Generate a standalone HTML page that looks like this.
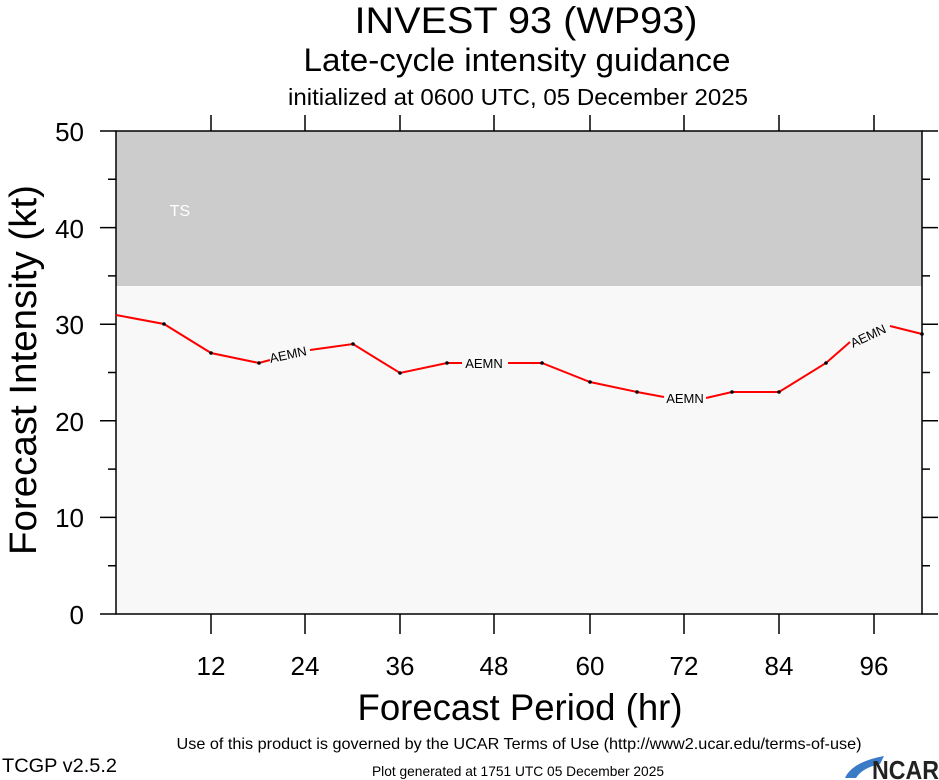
<!DOCTYPE html>
<html><head><style>body{margin:0;background:#fff}svg{display:block;font-family:"Liberation Sans",Arial,sans-serif}</style></head><body>
<svg width="939" height="780" viewBox="0 0 939 780">
<text x="526" y="33" font-size="37" text-anchor="middle" textLength="343" lengthAdjust="spacingAndGlyphs">INVEST 93 (WP93)</text>
<text x="517" y="71" font-size="32" text-anchor="middle" textLength="427" lengthAdjust="spacingAndGlyphs">Late-cycle intensity guidance</text>
<text x="518" y="105" font-size="23" text-anchor="middle" textLength="460" lengthAdjust="spacingAndGlyphs">initialized at 0600 UTC, 05 December 2025</text>
<rect x="116" y="131" width="806" height="483" fill="#f8f8f8"/>
<rect x="116" y="131" width="806" height="155" fill="#cccccc"/>
<text x="180" y="216" font-size="16" fill="#fff" text-anchor="middle">TS</text>
<g stroke="#000" stroke-width="1.5" fill="none">
<rect x="116" y="131" width="806" height="483"/>
<path d="M100 614H116M100 517.4H116M100 420.8H116M100 324.2H116M100 227.6H116M100 131H116
M108 565.7H116M108 469.1H116M108 372.5H116M108 275.9H116M108 179.3H116
M922 614H938M922 517.4H938M922 420.8H938M922 324.2H938M922 227.6H938M922 131H938
M922 565.7H930M922 469.1H930M922 372.5H930M922 275.9H930M922 179.3H930
M211 614V634M305 614V634M400 614V634M494 614V634M590 614V634M684 614V634M779 614V634M874 614V634
M211 131V115M305 131V115M400 131V115M494 131V115M590 131V115M684 131V115M779 131V115M874 131V115"/>
</g>
<g font-size="26" text-anchor="end"><text x="84" y="624">0</text><text x="84" y="527">10</text><text x="84" y="431">20</text><text x="84" y="334">30</text><text x="84" y="238">40</text><text x="84" y="141">50</text></g>
<g font-size="26" text-anchor="middle"><text x="211" y="675">12</text><text x="305" y="675">24</text><text x="400" y="675">36</text><text x="494" y="675">48</text><text x="590" y="675">60</text><text x="684" y="675">72</text><text x="779" y="675">84</text><text x="874" y="675">96</text></g>
<text x="520" y="720" font-size="37" text-anchor="middle" textLength="325" lengthAdjust="spacingAndGlyphs">Forecast Period (hr)</text>
<text transform="translate(36,370) rotate(-90)" font-size="38" text-anchor="middle" textLength="370" lengthAdjust="spacingAndGlyphs">Forecast Intensity (kt)</text>
<g stroke="red" stroke-width="2" fill="none">
<polyline points="116,315 164,324 211,353 259,363 270,360"/>
<polyline points="310,350 353,344 400,373 447,363 462,363"/>
<polyline points="508,363 542,363 590,382 637,392 664,397"/>
<polyline points="706,398 732,392 779,392 826,363 850,342"/>
<polyline points="890,326 922,334"/>
</g>
<g fill="#000"><circle cx="164" cy="324" r="1.8"/><circle cx="211" cy="353" r="1.8"/><circle cx="259" cy="363" r="1.8"/><circle cx="353" cy="344" r="1.8"/><circle cx="400" cy="373" r="1.8"/><circle cx="447" cy="363" r="1.8"/><circle cx="542" cy="363" r="1.8"/><circle cx="590" cy="382" r="1.8"/><circle cx="637" cy="392" r="1.8"/><circle cx="732" cy="392" r="1.8"/><circle cx="779" cy="392" r="1.8"/><circle cx="826" cy="363" r="1.8"/><circle cx="922" cy="334" r="1.8"/></g>
<g font-size="13" text-anchor="middle">
<text transform="translate(289,359) rotate(-12)">AEMN</text>
<text x="484" y="368">AEMN</text>
<text x="685" y="403">AEMN</text>
<text transform="translate(870,340) rotate(-25)">AEMN</text>
</g>
<text x="519" y="749" font-size="16" text-anchor="middle" textLength="685" lengthAdjust="spacingAndGlyphs">Use of this product is governed by the UCAR Terms of Use (http://www2.ucar.edu/terms-of-use)</text>
<text x="2" y="772" font-size="19" textLength="115" lengthAdjust="spacingAndGlyphs">TCGP v2.5.2</text>
<text x="518" y="776" font-size="14" text-anchor="middle" textLength="292" lengthAdjust="spacingAndGlyphs">Plot generated at 1751 UTC   05 December 2025</text>
<path d="M845 778 Q852 762 884 756 L880 764 Q862 768 856 778Z" fill="#3a7bc8"/>
<text x="872" y="779" font-size="26" font-weight="bold" fill="#222" textLength="67" lengthAdjust="spacingAndGlyphs">NCAR</text>
</svg>
</body></html>
